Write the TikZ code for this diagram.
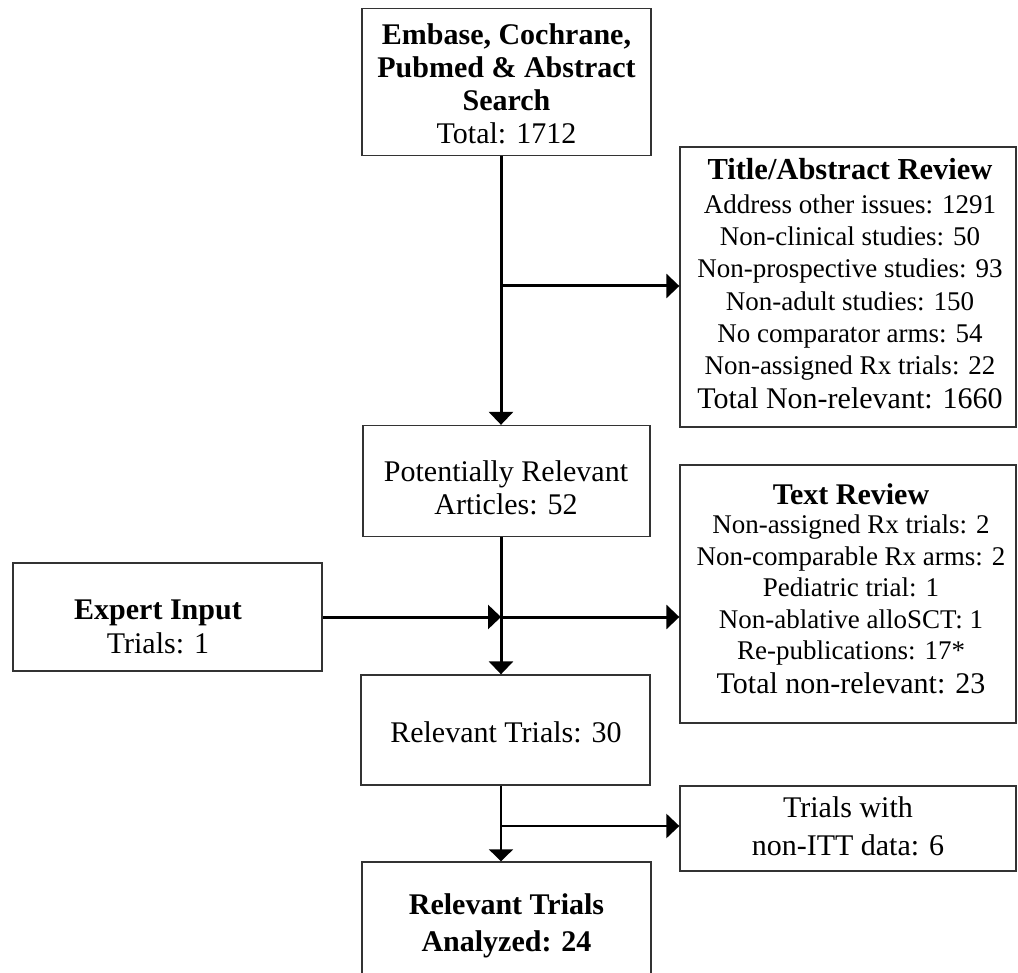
\documentclass[tikz,border=0pt]{standalone}
\usepackage{fontspec}
\setmainfont{Liberation Serif}
\usetikzlibrary{arrows.meta}
\begin{document}
\begin{tikzpicture}[x=1pt,y=-1pt,
  box/.style={draw=black!80, line width=1.3pt, rectangle, inner sep=0pt},
  txt/.style={align=center, inner sep=0pt},
  conn/.style={line width=3pt, -{Triangle[length=13pt,width=24pt]}},
  connthin/.style={line width=2pt, -{Triangle[length=12pt,width=24pt]}},
]
\clip (0,0) rectangle (1018,973);
\fill[white] (0,0) rectangle (1018,973);
% boxes
\node[box, minimum width=289pt, minimum height=147pt] (src) at (506.5,82) {};
\node[box, minimum width=336pt, minimum height=280pt] (tar) at (848,287) {};
\node[box, minimum width=287pt, minimum height=111pt] (pot) at (506.5,481) {};
\node[box, minimum width=336pt, minimum height=258pt] (txr) at (848,594) {};
\node[box, minimum width=309pt, minimum height=108pt] (exp) at (167.5,617) {};
\node[box, minimum width=289pt, minimum height=110pt] (rel) at (505.5,730) {};
\node[box, minimum width=336pt, minimum height=85pt] (itt) at (848,828.5) {};
\node[box, minimum width=289pt, minimum height=124pt] (ana) at (506.5,924) {};
% texts
\node[txt, font=\fontsize{30}{33}\selectfont] (srcT) at (506.5,84)
  {\textbf{Embase, Cochrane,}\\ \textbf{Pubmed \& Abstract}\\ \textbf{Search}\\ Total: 1712};
\node[txt, font=\fontsize{27}{32.3}\selectfont] (tarT) at (850,284)
  {{\fontsize{30.5}{32}\selectfont\bfseries Title/Abstract Review}\\[1pt]
   Address other issues: 1291\\ Non-clinical studies: 50\\ Non-prospective studies: 93\\
   Non-adult studies: 150\\ No comparator arms: 54\\ Non-assigned Rx trials: 22\\[2pt]
   {\fontsize{30}{32}\selectfont Total Non-relevant: 1660}};
\node[txt, font=\fontsize{30}{33}\selectfont] (potT) at (506,488)
  {Potentially Relevant\\ Articles: 52};
\node[txt, font=\fontsize{27}{31.5}\selectfont] (txrT) at (851,589)
  {{\fontsize{30}{32}\selectfont\bfseries Text Review}\\[-2.5pt]
   Non-assigned Rx trials: 2\\ Non-comparable Rx arms: 2\\ Pediatric trial: 1\\
   Non-ablative alloSCT: 1\\ Re-publications: 17*\\[2.5pt]
   {\fontsize{30}{32}\selectfont Total non-relevant: 23}};
\node[txt, font=\fontsize{30}{34}\selectfont] (expT) at (158,627)
  {\textbf{Expert Input}\\ Trials: 1};
\node[txt, font=\fontsize{30}{33}\selectfont] (relT) at (506,732) {Relevant Trials: 30};
\node[txt, font=\fontsize{30}{38}\selectfont] (ittT) at (848,826)
  {Trials with\\ non-ITT data: 6};
\node[txt, font=\fontsize{30}{37.5}\selectfont\bfseries] (anaT) at (506.5,926)
  {Relevant Trials\\ Analyzed: 24};
% connectors
\coordinate (spine) at (501,0);
\draw[conn] (src.south -| spine) -- (pot.north -| spine);
\coordinate (j1) at (501,286);
\draw[conn] (j1) -- (j1 -| tar.west);
\draw[conn] (pot.south -| spine) -- (rel.north -| spine);
\coordinate (j2) at (exp.east -| spine);
\draw[conn] (exp.east) -- (j2);
\draw[conn] (j2) -- (j2 -| txr.west);
\draw[connthin] (rel.south -| spine) -- (ana.north -| spine);
\coordinate (j3) at (501,826);
\draw[conn, line width=2.7pt] (j3) -- (j3 -| itt.west);
\end{tikzpicture}
\end{document}
